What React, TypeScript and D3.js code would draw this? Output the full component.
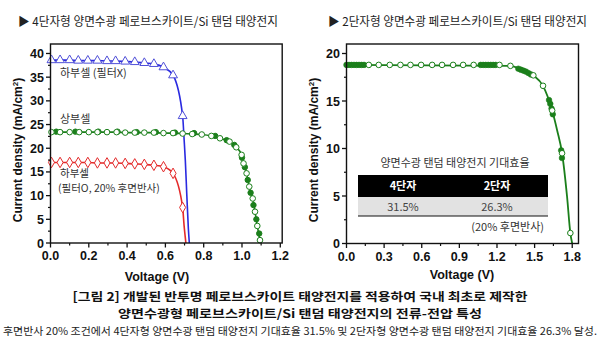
import React from 'react';
import * as d3 from 'd3';

// ---------- Tick values ----------
const leftXTicks = [0, 0.2, 0.4, 0.6, 0.8, 1.0, 1.2];
const leftXMinor = [0.1, 0.3, 0.5, 0.7, 0.9, 1.1];
const leftYTicks = [0, 5, 10, 15, 20, 25, 30, 35, 40];
const leftYMinor = [2.5, 7.5, 12.5, 17.5, 22.5, 27.5, 32.5, 37.5];
const rightXTicks = [0, 0.3, 0.6, 0.9, 1.2, 1.5, 1.8];
const rightXMinor = [0.15, 0.45, 0.75, 1.05, 1.35, 1.65];
const rightYTicks = [0, 5, 10, 15, 20];
const rightYMinor = [2.5, 7.5, 12.5, 17.5];

// ---------- Left panel: 4-terminal ----------
// bottom cell (no filter) - triangles
const blueV = [0.005, 0.05, 0.1, 0.145, 0.195, 0.245, 0.295, 0.34, 0.39, 0.44, 0.49, 0.54, 0.59, 0.64, 0.69];
const blueJ = [38.6, 38.6, 38.6, 38.5, 38.5, 38.5, 38.4, 38.4, 38.3, 38.2, 38.0, 37.8, 37.1, 35.4, 26.8];
const blueTailV = [0.698, 0.704, 0.712, 0.72, 0.725];
const blueTailJ = [21.7, 17.5, 10.0, 3.0, 0];

// bottom cell (filter, 20% albedo) - diamonds
const redV = [0.005, 0.05, 0.1, 0.145, 0.195, 0.245, 0.295, 0.34, 0.39, 0.44, 0.49, 0.54, 0.59, 0.64, 0.69];
const redJ = [17.0, 17.0, 17.0, 17.0, 17.0, 16.9, 16.9, 16.9, 16.8, 16.7, 16.6, 16.4, 16.1, 14.7, 7.5];
const redTailV = [0.698, 0.703, 0.707];
const redTailJ = [3.5, 1.5, 0];

// top cell - hollow circles
const greenV = [0.005, 0.05, 0.1, 0.15, 0.2, 0.245, 0.295, 0.345, 0.39, 0.44, 0.49, 0.54, 0.59, 0.64, 0.69, 0.74, 0.79, 0.84, 0.885, 0.935, 0.97, 0.998, 1.008, 1.024, 1.038, 1.056, 1.068, 1.08, 1.094];
const greenJ = [23.4, 23.4, 23.4, 23.4, 23.4, 23.4, 23.4, 23.4, 23.3, 23.3, 23.3, 23.3, 23.2, 23.2, 23.1, 23.0, 22.9, 22.6, 22.1, 21.4, 20.2, 18.6, 16.8, 14.7, 11.9, 9.4, 6.6, 3.6, 0.6];
const greenTailV = [1.098];
const greenTailJ = [0];
// top cell - filled circles (other scan)
const greenFV = [0.03, 0.13, 0.25, 0.35, 0.45, 0.55, 0.65, 0.75, 0.86, 0.92, 0.96, 1.0, 1.015, 1.03, 1.045, 1.06, 1.075, 1.09];
const greenFJ = [23.5, 23.5, 23.5, 23.5, 23.4, 23.4, 23.3, 23.2, 22.6, 21.7, 20.7, 18.0, 16.0, 13.3, 10.6, 8.0, 5.0, 2.0];

// ---------- Right panel: 2-terminal ----------
const tandemV = [0.178, 0.257, 0.345, 0.43, 0.51, 0.595, 0.683, 0.762, 0.85, 0.93, 1.014, 1.22, 1.307, 1.49, 1.567, 1.64, 1.719, 1.785];
const tandemJ = [18.8, 18.8, 18.8, 18.8, 18.8, 18.8, 18.8, 18.8, 18.8, 18.8, 18.8, 18.8, 18.7, 17.7, 16.6, 14.0, 9.5, 1.1];
const tandemFV = [0.0, 0.02, 0.04, 0.06, 0.08, 0.1, 0.12, 0.14, 1.07, 1.09, 1.11, 1.13, 1.15, 1.17, 1.19, 1.37, 1.39, 1.41, 1.43, 1.45, 1.47, 1.615, 1.625, 1.635, 1.645, 1.712, 1.718];
const tandemFJ = [18.8, 18.8, 18.8, 18.8, 18.8, 18.8, 18.8, 18.8, 18.8, 18.8, 18.8, 18.8, 18.8, 18.8, 18.8, 18.4, 18.3, 18.2, 18.1, 17.95, 17.8, 15.1, 14.7, 14.2, 13.6, 9.8, 9.0];
const tandemLineV = [0.0, 1.3, 1.4, 1.49, 1.567, 1.64, 1.68, 1.719, 1.759, 1.785, 1.80];
const tandemLineJ = [18.8, 18.7, 18.3, 17.7, 16.6, 14.0, 11.9, 9.5, 4.9, 1.1, 0];

// ---------- Texts ----------
const leftTitle = '▶ 4단자형 양면수광 페로브스카이트/Si 탠덤 태양전지';
const rightTitle = '▶ 2단자형 양면수광 페로브스카이트/Si 탠덤 태양전지';
const insetTitle = '양면수광 탠덤 태양전지 기대효율';
const insetHeaders = ['4단자', '2단자'];
const insetValues = ['31.5%', '26.3%'];
const insetNote = '(20% 후면반사)';
const captionLines = [
  '[그림 2] 개발된 반투명 페로브스카이트 태양전지를 적용하여 국내 최초로 제작한',
  '양면수광형 페로브스카이트/Si 탠덤 태양전지의 전류-전압 특성',
];
const footnote = '후면반사 20% 조건에서 4단자형 양면수광 탠덤 태양전지 기대효율 31.5% 및 2단자형 양면수광 탠덤 태양전지 기대효율 26.3% 달성.';

const KR = "'Noto Sans CJK KR', 'Noto Sans', sans-serif";
const NUM = "'Liberation Sans', Arial, sans-serif";

const zip = (a: number[], b: number[]) => a.map((v, i) => [v, b[i]] as [number, number]);

type Scale = d3.ScaleLinear<number, number>;

function Axes({ x, y, xTicks, xMinor, yTicks, yMinor, fmtX, fmtY }: {
  x: Scale; y: Scale; xTicks: number[]; xMinor: number[]; yTicks: number[]; yMinor: number[];
  fmtX: (v: number) => string; fmtY: (v: number) => string;
}) {
  const [x0, x1] = x.range();
  const [y0, y1] = y.range();
  return (
    <g>
      <rect x={x0} y={y1} width={x1 - x0} height={y0 - y1} fill="none" stroke="#111" strokeWidth={1.4} />
      {xTicks.map((t) => (
        <g key={'xt' + t}>
          <line x1={x(t)} x2={x(t)} y1={y0} y2={y0 + 4.5} stroke="#111" strokeWidth={1.3} />
          <text x={x(t)} y={y0 + 17} textAnchor="middle" fontFamily={NUM} fontWeight="bold" fontSize={12.5} fill="#111">{fmtX(t)}</text>
        </g>
      ))}
      {xMinor.map((t) => (
        <line key={'xm' + t} x1={x(t)} x2={x(t)} y1={y0} y2={y0 + 2.5} stroke="#111" strokeWidth={1.2} />
      ))}
      {yTicks.map((t) => (
        <g key={'yt' + t}>
          <line x1={x0 - 4.5} x2={x0} y1={y(t)} y2={y(t)} stroke="#111" strokeWidth={1.3} />
          <text x={x0 - 6.5} y={y(t) + 4.5} textAnchor="end" fontFamily={NUM} fontWeight="bold" fontSize={12.5} fill="#111">{fmtY(t)}</text>
        </g>
      ))}
      {yMinor.map((t) => (
        <line key={'ym' + t} x1={x0 - 2.5} x2={x0} y1={y(t)} y2={y(t)} stroke="#111" strokeWidth={1.2} />
      ))}
    </g>
  );
}

function YTitle({ cx, cy }: { cx: number; cy: number }) {
  return (
    <text transform={`translate(${cx},${cy}) rotate(-90)`} textAnchor="middle" fontFamily={NUM} fontWeight="bold" fontSize={12} fill="#111">
      Current density (mA/cm<tspan dy={-4} fontSize={8}>2</tspan><tspan dy={4}>)</tspan>
    </text>
  );
}

export default function App() {
  // left panel scales
  const xL = d3.scaleLinear().domain([0, 1.21]).range([50.5, 282.2]);
  const yL = d3.scaleLinear().domain([0, 42]).range([243, 44]);
  // right panel scales
  const xR = d3.scaleLinear().domain([0, 1.85]).range([346.5, 578.5]);
  const yR = d3.scaleLinear().domain([0, 21]).range([243.5, 44]);

  const lineL = d3.line<[number, number]>().x((d) => xL(d[0])).y((d) => yL(d[1])).curve(d3.curveMonotoneX);
  const lineR = d3.line<[number, number]>().x((d) => xR(d[0])).y((d) => yR(d[1])).curve(d3.curveMonotoneX);

  const blueLine = zip(blueV.concat(blueTailV), blueJ.concat(blueTailJ));
  const redLine = zip(redV.concat(redTailV), redJ.concat(redTailJ));
  const greenLine = zip(greenV.concat(greenTailV), greenJ.concat(greenTailJ));
  const tandemLine = zip(tandemLineV, tandemLineJ);

  const tri = d3.symbol().type(d3.symbolTriangle).size(34)() as string;
  const dia = d3.symbol().type(d3.symbolDiamond).size(32)() as string;

  const BLUE = '#2a2ae0';
  const RED = '#e42a2a';
  const GREEN = '#1b7f1b';

  const fmt1 = (v: number) => v.toFixed(1);
  const fmt0 = (v: number) => String(v);

  return (
    <svg width={600} height={345} style={{ position: 'absolute', left: 0, top: 0, background: '#fff' }}>
      <rect width={600} height={345} fill="#fff" />
      {/* titles */}
      <text x={18} y={26} fontFamily={KR} fontSize={12} fill="#222" textLength={260} lengthAdjust="spacingAndGlyphs">{leftTitle}</text>
      <text x={328} y={26} fontFamily={KR} fontSize={12} fill="#222" textLength={259} lengthAdjust="spacingAndGlyphs">{rightTitle}</text>

      {/* LEFT PANEL */}
      <g>
        <path d={lineL(greenLine) || ''} fill="none" stroke={GREEN} strokeWidth={1.6} />
        <path d={lineL(redLine) || ''} fill="none" stroke={RED} strokeWidth={1.6} />
        <path d={lineL(blueLine) || ''} fill="none" stroke={BLUE} strokeWidth={1.6} />
        {zip(greenFV, greenFJ).map((d, i) => (
          <circle key={'gf' + i} cx={xL(d[0])} cy={yL(d[1])} r={2.7} fill={GREEN} stroke={GREEN} strokeWidth={1} />
        ))}
        {zip(greenV, greenJ).map((d, i) => (
          <circle key={'g' + i} cx={xL(d[0])} cy={yL(d[1])} r={2.8} fill="#fff" stroke={GREEN} strokeWidth={1} />
        ))}
        {zip(redV, redJ).map((d, i) => (
          <path key={'r' + i} d={dia} transform={`translate(${xL(d[0])},${yL(d[1])})`} fill="#fff" stroke={RED} strokeWidth={1} />
        ))}
        {zip(blueV, blueJ).map((d, i) => (
          <path key={'b' + i} d={tri} transform={`translate(${xL(d[0])},${yL(d[1])})`} fill="#fff" stroke="#5050d8" strokeWidth={1} />
        ))}
        <Axes x={xL} y={yL} xTicks={leftXTicks} xMinor={leftXMinor} yTicks={leftYTicks} yMinor={leftYMinor} fmtX={fmt1} fmtY={fmt0} />
        <text x={60} y={77} fontFamily={KR} fontSize={11} fill="#333">하부셀 (필터X)</text>
        <text x={60} y={123} fontFamily={KR} fontSize={11} fill="#333">상부셀</text>
        <text x={60} y={176.5} fontFamily={KR} fontSize={10.5} fill="#333">하부셀</text>
        <text x={58} y={191.5} fontFamily={KR} fontSize={10.5} fill="#333">(필터O, 20% 후면반사)</text>
        <YTitle cx={22} cy={150} />
        <text x={157} y={281} textAnchor="middle" fontFamily={NUM} fontWeight="bold" fontSize={12.5} fill="#111">Voltage (V)</text>
      </g>

      {/* RIGHT PANEL */}
      <g>
        <path d={lineR(tandemLine) || ''} fill="none" stroke={GREEN} strokeWidth={1.8} />
        {zip(tandemFV, tandemFJ).map((d, i) => (
          <circle key={'tf' + i} cx={xR(d[0])} cy={yR(d[1])} r={2.8} fill={GREEN} stroke={GREEN} strokeWidth={0.6} />
        ))}
        {zip(tandemV, tandemJ).map((d, i) => (
          <circle key={'t' + i} cx={xR(d[0])} cy={yR(d[1])} r={2.8} fill="#fff" stroke={GREEN} strokeWidth={1} />
        ))}
        <Axes x={xR} y={yR} xTicks={rightXTicks} xMinor={rightXMinor} yTicks={rightYTicks} yMinor={rightYMinor} fmtX={fmt1} fmtY={fmt0} />
        {/* inset table */}
        <text x={455} y={167} textAnchor="middle" fontFamily={KR} fontSize={11} fill="#333">{insetTitle}</text>
        <rect x={358} y={175} width={190} height={22} fill="#000" />
        <rect x={358} y={197} width={190} height={19} fill="#e2e2e2" />
        <line x1={358} x2={548} y1={216} y2={216} stroke="#111" strokeWidth={1} />
        {insetHeaders.map((h, i) => (
          <text key={h} x={i === 0 ? 403 : 497} y={190} textAnchor="middle" fontFamily={KR} fontWeight="bold" fontSize={11} fill="#fff">{h}</text>
        ))}
        {insetValues.map((v, i) => (
          <text key={v} x={i === 0 ? 403 : 497} y={210.5} textAnchor="middle" fontFamily={KR} fontSize={11} fill="#444">{v}</text>
        ))}
        <text x={544} y={231} textAnchor="end" fontFamily={KR} fontSize={11} fill="#333">{insetNote}</text>
        <YTitle cx={318} cy={150} />
        <text x={462} y={279} textAnchor="middle" fontFamily={NUM} fontWeight="bold" fontSize={12.5} fill="#111">Voltage (V)</text>
      </g>

      {/* caption */}
      <text x={300} y={300.5} textAnchor="middle" fontFamily={KR} fontWeight="bold" fontSize={11.8} fill="#111" textLength={455} lengthAdjust="spacingAndGlyphs">{captionLines[0]}</text>
      <text x={300} y={317.5} textAnchor="middle" fontFamily={KR} fontWeight="bold" fontSize={11.8} fill="#111" textLength={364} lengthAdjust="spacingAndGlyphs">{captionLines[1]}</text>
      <text x={300} y={335} textAnchor="middle" fontFamily={KR} fontSize={10.5} fill="#222" textLength={594} lengthAdjust="spacingAndGlyphs">{footnote}</text>
    </svg>
  );
}
